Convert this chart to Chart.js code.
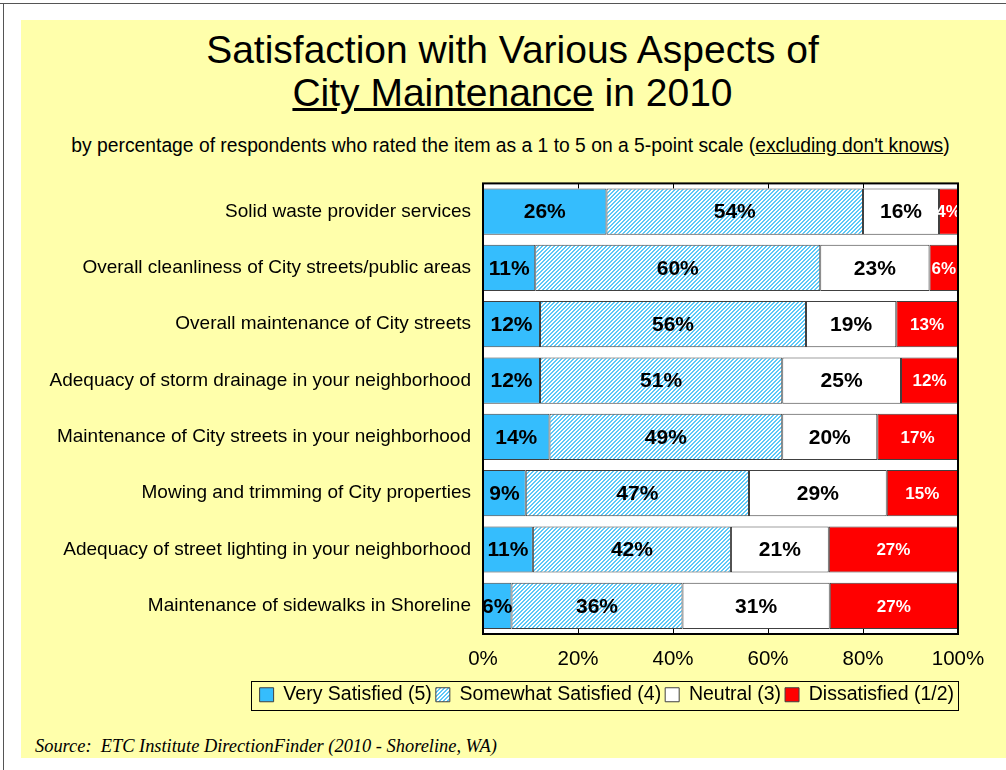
<!DOCTYPE html>
<html>
<head>
<meta charset="utf-8">
<script src="https://cdn.jsdelivr.net/npm/chart.js@4"></script>
<style>
body { margin:0; background:#fff; width:1006px; height:770px; position:relative; overflow:hidden; font-family: Arial, "Liberation Sans", sans-serif; color:#000; }
#frameTop { position:absolute; left:0; top:3px; width:1006px; height:1px; background:#555; }
#frameLeft { position:absolute; left:3px; top:3px; width:1px; height:767px; background:#555; }
#bg { position:absolute; left:21px; top:20px; width:985px; height:738px; background:#ffffab; }
#title { position:absolute; left:20px; width:985px; top:28px; text-align:center; font-size:39px; line-height:43px; }
#subtitle { position:absolute; left:18px; width:985px; top:135px; text-align:center; font-size:19.3px; line-height:22px; white-space:nowrap; }
#source { position:absolute; left:35px; top:736px; font-family:"Liberation Serif","Times New Roman",serif; font-style:italic; font-size:18.4px; line-height:20px; white-space:nowrap; }
#wrap { position:absolute; left:0; top:160px; width:1006px; height:560px; }
</style>
</head>
<body>
<div id="frameTop"></div>
<div id="frameLeft"></div>
<div id="bg"></div>
<div id="title">Satisfaction with Various Aspects of<br><u>City Maintenance</u> in 2010</div>
<div id="subtitle">by percentage of respondents who rated the item as a 1 to 5 on a 5-point scale (<u>excluding don't knows</u>)</div>
<div id="wrap"><canvas id="chart"></canvas></div>
<div id="source">Source:&nbsp; ETC Institute DirectionFinder (2010 - Shoreline, WA)</div>

<script>
const categories = [
    'Solid waste provider services',
    'Overall cleanliness of City streets/public areas',
    'Overall maintenance of City streets',
    'Adequacy of storm drainage in your neighborhood',
    'Maintenance of City streets in your neighborhood',
    'Mowing and trimming of City properties',
    'Adequacy of street lighting in your neighborhood',
    'Maintenance of sidewalks in Shoreline'
];
const seriesNames = ['Very Satisfied (5)', 'Somewhat Satisfied (4)', 'Neutral (3)', 'Dissatisfied (1/2)'];
const verySatisfied = [26, 11, 12, 12, 14, 9, 10.5, 6];
const somewhatSatisfied = [54, 60, 56, 51, 49, 47, 41.7, 36];
const neutral = [16, 23, 19, 25, 20, 29, 20.6, 31];
const dissatisfied = [4, 6, 13, 12, 17, 15, 27.2, 27];
const xTicks = [0, 20, 40, 60, 80, 100];

const ctx = document.getElementById('chart').getContext('2d');

// light blue diagonal hatch for "somewhat satisfied"
function makeHatch() {
    const c = document.createElement('canvas');
    c.width = 4; c.height = 4;
    const g = c.getContext('2d');
    g.fillStyle = '#fff';
    g.fillRect(0, 0, 4, 4);
    g.fillStyle = '#5cc8f8';
    for (let i = 0; i < 4; i++) {
        g.fillRect(i, 3 - i, 1, 1);
        g.fillRect(i, (4 - i) % 4, 1, 1);
    }
    return ctx.createPattern(c, 'repeat');
}

const labelStyle = [
    {color: '#000', font: 'bold 21px Arial, "Liberation Sans"'},
    {color: '#000', font: 'bold 21px Arial, "Liberation Sans"'},
    {color: '#000', font: 'bold 21px Arial, "Liberation Sans"'},
    {color: '#fff', font: 'bold 17px Arial, "Liberation Sans"'}
];

const decor = {
    id: 'decor',
    beforeDatasetsDraw(chart) {
        const a = chart.chartArea, c = chart.ctx;
        c.save();
        c.fillStyle = '#fff';
        c.fillRect(a.left, a.top, a.right - a.left, a.bottom - a.top);
        c.restore();
    },
    afterDatasetsDraw(chart) {
        const a = chart.chartArea, c = chart.ctx;
        c.save();
        c.beginPath();
        c.rect(0, a.top, a.right, a.bottom - a.top);
        c.clip();
        c.textAlign = 'center';
        c.textBaseline = 'middle';
        chart.data.datasets.forEach((ds, di) => {
            const meta = chart.getDatasetMeta(di);
            c.fillStyle = labelStyle[di].color;
            c.font = labelStyle[di].font;
            meta.data.forEach((bar, i) => {
                const v = ds.data[i];
                c.fillText(Math.round(v) + '%', (bar.x + bar.base) / 2, bar.y + 1);
            });
        });
        c.restore();

        // plot border and inside tick marks
        c.save();
        c.strokeStyle = '#000';
        c.lineWidth = 2;
        c.strokeRect(a.left, a.top, a.right - a.left, a.bottom - a.top);
        c.lineWidth = 1;
        const xs = chart.scales.x;
        xTicks.slice(1, -1).forEach(t => {
            const px = Math.round(xs.getPixelForValue(t)) + 0.5;
            c.beginPath();
            c.moveTo(px, a.top); c.lineTo(px, a.top + 5);
            c.moveTo(px, a.bottom); c.lineTo(px, a.bottom - 5);
            c.stroke();
        });
        c.restore();
    },
    afterDraw(chart) {
        const boxes = chart.legend.legendHitBoxes;
        if (!boxes || !boxes.length) return;
        const c = chart.ctx;
        const left = Math.min(...boxes.map(b => b.left)) - 9;
        const top = Math.min(...boxes.map(b => b.top)) - 4;
        const bottom = Math.max(...boxes.map(b => b.top + b.height)) + 5;
        const right = chart.chartArea.right;
        c.save();
        c.strokeStyle = '#000';
        c.lineWidth = 1;
        c.strokeRect(Math.round(left) + 0.5, Math.round(top) + 0.5, Math.round(right - left), Math.round(bottom - top));
        c.restore();
    }
};

new Chart(ctx, {
    type: 'bar',
    data: {
        labels: categories,
        datasets: [
            {label: seriesNames[0], data: verySatisfied, backgroundColor: '#35bdfd'},
            {label: seriesNames[1], data: somewhatSatisfied, backgroundColor: makeHatch()},
            {label: seriesNames[2], data: neutral, backgroundColor: '#ffffff'},
            {label: seriesNames[3], data: dissatisfied, backgroundColor: '#ff0000'}
        ].map(d => Object.assign(d, {
            borderColor: '#404040',
            borderWidth: 1,
            borderSkipped: false,
            barPercentage: 0.82,
            categoryPercentage: 1
        }))
    },
    options: {
        indexAxis: 'y',
        responsive: true,
        maintainAspectRatio: false,
        animation: false,
        layout: {padding: {top: 23, right: 48, bottom: 5.5, left: 0}},
        scales: {
            x: {
                stacked: true,
                min: 0,
                max: 100,
                afterBuildTicks: s => { s.ticks = xTicks.map(v => ({value: v})); },
                afterFit: s => { s.height = 47; },
                ticks: {
                    callback: v => v + '%',
                    color: '#000',
                    padding: 13,
                    font: {family: 'Arial, "Liberation Sans"', size: 20.5}
                },
                grid: {display: false, drawTicks: false},
                border: {display: false}
            },
            y: {
                stacked: true,
                afterFit: s => { s.width = 483; },
                ticks: {
                    color: '#000',
                    padding: 12,
                    font: {family: 'Arial, "Liberation Sans"', size: 19}
                },
                grid: {display: false, drawTicks: false},
                border: {display: false}
            }
        },
        plugins: {
            legend: {
                position: 'bottom',
                align: 'end',
                labels: {
                    boxWidth: 14,
                    boxHeight: 14,
                    padding: 4,
                    color: '#000',
                    font: {family: 'Arial, "Liberation Sans"', size: 19.5}
                }
            },
            tooltip: {enabled: false}
        }
    },
    plugins: [decor]
});
</script>
</body>
</html>
